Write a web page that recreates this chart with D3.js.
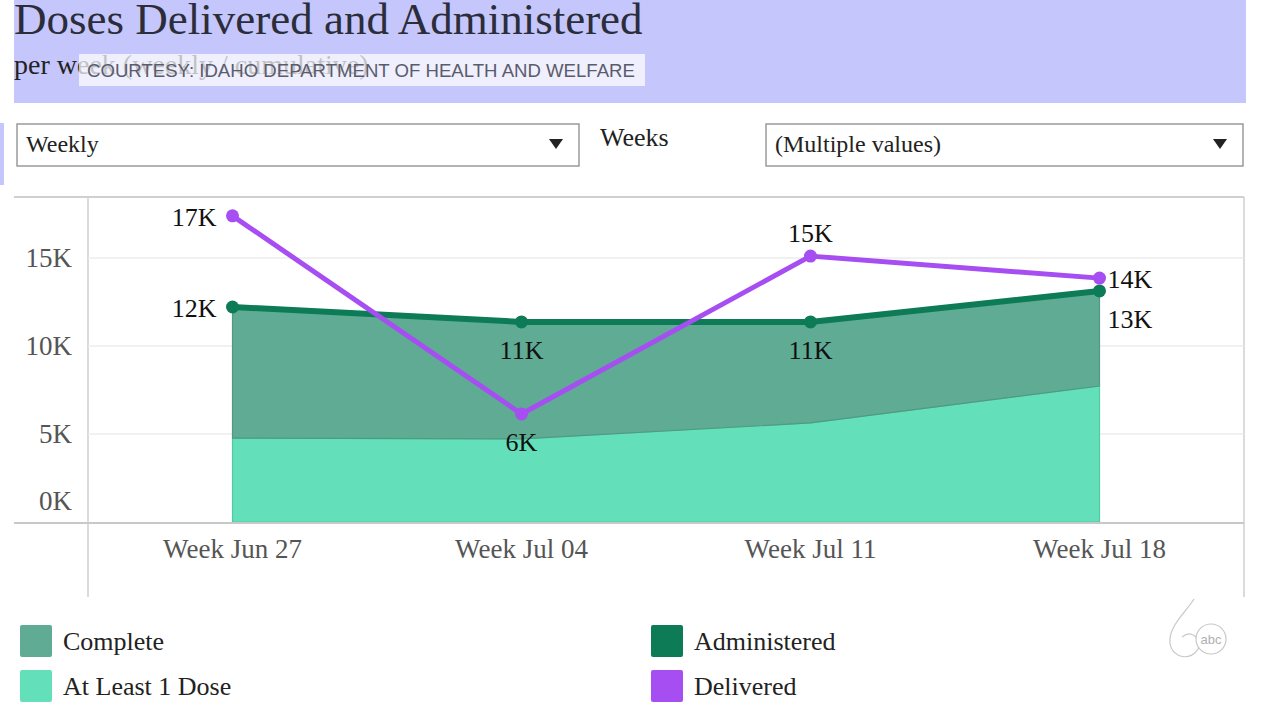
<!DOCTYPE html>
<html>
<head>
<meta charset="utf-8">
<script src="https://cdn.jsdelivr.net/npm/d3@7"></script>
<style>
  html, body { margin: 0; padding: 0; background: #ffffff; }
  svg { display: block; }
</style>
</head>
<body>
<svg id="chart" width="1280" height="720"></svg>
<script>
// ---- data ----
const weeks = ["Week Jun 27", "Week Jul 04", "Week Jul 11", "Week Jul 18"];
const atLeast1Dose = [4770, 4720, 5630, 7730];
const complete = [7450, 6650, 5740, 5400];
const administered = [12220, 11370, 11370, 13130];
const delivered = [17400, 6140, 15110, 13860];
const yTicks = [0, 5000, 10000, 15000];
const legendItems = ["Complete", "At Least 1 Dose", "Administered", "Delivered"];

// ---- setup ----
const svg = d3.select("#chart");
const serif = "'Liberation Serif', 'Times New Roman', serif";
const sans = "'Liberation Sans', Arial, sans-serif";
const colors = {
  "Complete": "#5fab94",
  "At Least 1 Dose": "#63e0ba",
  "Administered": "#0d7b56",
  "Delivered": "#a64ef2"
};

// header band
svg.append("rect").attr("x", 14).attr("y", 0).attr("width", 1232).attr("height", 103).attr("fill", "#c5c6fb");
svg.append("text").attr("x", 14).attr("y", 34).attr("font-family", serif).attr("font-size", 45)
  .attr("fill", "#2b2d3a").text("Doses Delivered and Administered");
svg.append("text").attr("x", 14).attr("y", 74).attr("font-family", serif).attr("font-size", 28)
  .attr("fill", "#222").text("per week (weekly / cumulative)");
svg.append("rect").attr("x", 79).attr("y", 54).attr("width", 566).attr("height", 32)
  .attr("fill", "#ffffff").attr("opacity", 0.72);
svg.append("text").attr("x", 87).attr("y", 77).attr("font-family", sans).attr("font-size", 18.6)
  .attr("fill", "#5a5c6b").text("COURTESY: IDAHO DEPARTMENT OF HEALTH AND WELFARE");

// left accent strip
svg.append("rect").attr("x", 0).attr("y", 123).attr("width", 4).attr("height", 62).attr("fill", "#c5c6fb");

// dropdowns
function dropdown(x, w, label) {
  svg.append("rect").attr("x", x).attr("y", 124).attr("width", w).attr("height", 42)
    .attr("fill", "#fff").attr("stroke", "#9a9a9a").attr("stroke-width", 1.5);
  svg.append("text").attr("x", x + 9).attr("y", 152).attr("font-family", serif).attr("font-size", 24)
    .attr("fill", "#222").text(label);
  const tx = x + w - 23;
  svg.append("path").attr("d", `M${tx - 7},139 L${tx + 7},139 L${tx},149 Z`).attr("fill", "#222");
}
dropdown(17, 562, "Weekly");
dropdown(766, 477, "(Multiple values)");
svg.append("text").attr("x", 600).attr("y", 146).attr("font-family", serif).attr("font-size", 26)
  .attr("fill", "#222").text("Weeks");

// ---- scales ----
const x = d3.scaleBand().domain(weeks).range([88, 1244]).padding(0);
const xc = d => x(d) + x.bandwidth() / 2;
const y = d3.scaleLinear().domain([0, 18470]).range([522, 197]);

// frame
svg.append("line").attr("x1", 14).attr("x2", 1244).attr("y1", 197).attr("y2", 197).attr("stroke", "#d0d0d0").attr("stroke-width", 2);
svg.append("line").attr("x1", 88).attr("x2", 88).attr("y1", 197).attr("y2", 597).attr("stroke", "#cfcfcf").attr("stroke-width", 1.5);
svg.append("line").attr("x1", 1244).attr("x2", 1244).attr("y1", 197).attr("y2", 597).attr("stroke", "#cfcfcf").attr("stroke-width", 1.5);

// gridlines
svg.append("g").selectAll("line").data(yTicks.filter(t => t > 0)).join("line")
  .attr("x1", 88).attr("x2", 1244).attr("y1", d => y(d)).attr("y2", d => y(d))
  .attr("stroke", "#ececec").attr("stroke-width", 1.5);

// y axis
const yAxis = d3.axisLeft(y).tickValues(yTicks).tickSize(0).tickPadding(0)
  .tickFormat(d => (d / 1000) + "K");
const yG = svg.append("g").attr("transform", "translate(72,0)").call(yAxis);
yG.select(".domain").remove();
yG.selectAll("text").attr("font-family", serif).attr("font-size", 27).attr("fill", "#555")
  .attr("dy", d => d === 0 ? "-0.45em" : "0.32em");

// stacked areas
const rows = weeks.map((w, i) => ({ week: w, "At Least 1 Dose": atLeast1Dose[i], "Complete": complete[i] }));
const stack = d3.stack().keys(["At Least 1 Dose", "Complete"])(rows);
const area = d3.area().x(d => xc(d.data.week)).y0(d => y(d[0])).y1(d => y(d[1]));
svg.append("g").selectAll("path").data(stack).join("path")
  .attr("d", area).attr("fill", d => colors[d.key])
  .attr("stroke", d => d.key === "Complete" ? "#4f9a83" : "#52c9a4").attr("stroke-width", 1.2);

// x axis line
svg.append("line").attr("x1", 14).attr("x2", 1244).attr("y1", 523).attr("y2", 523).attr("stroke", "#c8c8c8").attr("stroke-width", 2);

// x axis labels
const xAxis = d3.axisBottom(x).tickSize(0).tickPadding(0);
const xG = svg.append("g").attr("transform", "translate(0,549)").call(xAxis);
xG.select(".domain").remove();
xG.selectAll("text").attr("font-family", serif).attr("font-size", 27).attr("fill", "#555").attr("dy", "0.32em");

// lines
const lineGen = d3.line().x((d, i) => xc(weeks[i])).y(d => y(d));
function series(values, color, width, placements) {
  const g = svg.append("g");
  g.append("path").attr("d", lineGen(values)).attr("fill", "none").attr("stroke", color)
    .attr("stroke-width", width).attr("stroke-linejoin", "round");
  g.selectAll("circle").data(values).join("circle")
    .attr("cx", (d, i) => xc(weeks[i])).attr("cy", d => y(d)).attr("r", 6.5).attr("fill", color);
  g.selectAll("text").data(values).join("text")
    .attr("font-family", serif).attr("font-size", 26).attr("fill", "#111")
    .attr("x", (d, i) => {
      const p = placements[i], cx = xc(weeks[i]);
      return p === "left" ? cx - 16 : p.startsWith("right") ? cx + 8 : cx;
    })
    .attr("y", (d, i) => {
      const p = placements[i], cy = y(d);
      return p === "below" ? cy + 37 : p === "above" ? cy - 14 : p === "right-below" ? cy + 37 : cy + 10;
    })
    .attr("text-anchor", (d, i) => placements[i] === "left" ? "end" : placements[i].startsWith("right") ? "start" : "middle")
    .text(d => Math.round(d / 1000) + "K");
}
series(administered, colors["Administered"], 6, ["left", "below", "below", "right-below"]);
series(delivered, colors["Delivered"], 5, ["left", "below", "above", "right"]);

// legend
const legendPos = [[20, 625], [20, 670], [651, 625], [651, 670]];
legendItems.forEach((name, i) => {
  const [lx, ly] = legendPos[i];
  svg.append("rect").attr("x", lx).attr("y", ly).attr("width", 32).attr("height", 32).attr("rx", 2)
    .attr("fill", colors[name]);
  svg.append("text").attr("x", lx + 43).attr("y", ly + 25).attr("font-family", serif).attr("font-size", 26)
    .attr("fill", "#222").text(name);
});

// faint station logo
const logo = svg.append("g").attr("transform", "translate(1196,637)").attr("fill", "none")
  .attr("stroke", "#c8c8c8").attr("stroke-width", 1.2);
logo.append("path").attr("d", "M-2,-38 C-10,-25 -28,-10 -26,6 C-24,22 -4,24 2,12 C6,2 -4,-8 -14,0");
logo.append("circle").attr("cx", 15).attr("cy", 2).attr("r", 15).attr("fill", "#ffffff");
logo.append("text").attr("x", 15).attr("y", 7).attr("text-anchor", "middle").attr("font-family", sans)
  .attr("font-size", 13).attr("stroke", "none").attr("fill", "#b0b0b0").text("abc");
</script>
</body>
</html>
